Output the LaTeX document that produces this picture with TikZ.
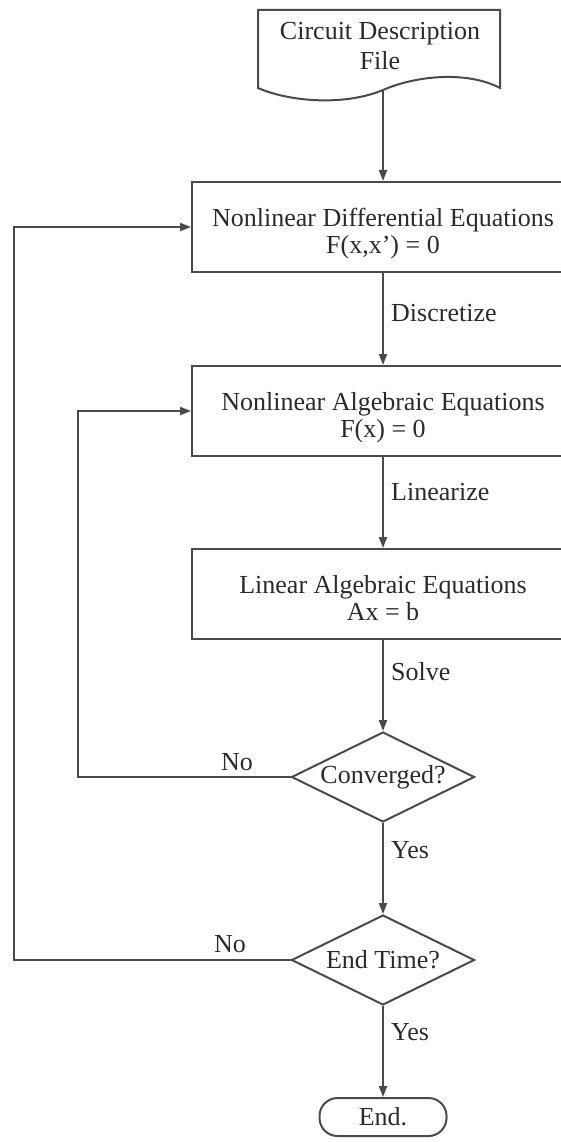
\documentclass[tikz,border=0pt]{standalone}
\usepackage{fontspec}
\setmainfont{Liberation Serif}
\usetikzlibrary{shapes.geometric,arrows.meta}
\definecolor{ln}{HTML}{4A4A4A}
\definecolor{tx}{HTML}{2A2A2A}
\newcommand{\twolines}[2]{\raisebox{-13.5pt}[0pt][0pt]{\begin{tabular}{@{}c@{}}#1\\#2\end{tabular}}}
\begin{document}
\begin{tikzpicture}[x=1pt,y=-1pt,
  every node/.style={text=tx,font=\fontsize{26}{27}\selectfont},
  box/.style={draw=ln,line width=2pt,rectangle,minimum width=382pt,minimum height=90pt,align=center,inner sep=0pt},
  dia/.style={draw=ln,line width=2pt,diamond,aspect=2,minimum width=183pt,minimum height=90pt,inner sep=0pt},
  term/.style={draw=ln,line width=2pt,rectangle,rounded corners=18pt,minimum width=127pt,minimum height=38pt,inner sep=0pt},
  arr/.style={draw=ln,line width=2pt,-{Triangle[length=11pt,width=8pt]}},
  ln/.style={draw=ln,line width=2pt},
  lab/.style={anchor=west,inner sep=0pt}]
\useasboundingbox (0,0) rectangle (561,1142);
% document shape
\draw[ln,fill=white] (258,88) -- (258,10) -- (500,10) -- (500,88)
  .. controls (470,72) and (420,74) .. (383,90)
  .. controls (345,106) and (290,102) .. (258,88) -- cycle;
\node[align=center,font=\fontsize{26}{30}\selectfont] (doc) at (380,46) {Circuit Description\\File};
\coordinate (docb) at (383,90);
% boxes
\node[box] (b1) at (383,227) {\twolines{Nonlinear Differential Equations}{F(x,x’) = 0}};
\node[box] (b2) at (383,411) {\twolines{Nonlinear Algebraic Equations}{F(x) = 0}};
\node[box] (b3) at (383,594) {\twolines{Linear Algebraic Equations}{Ax = b}};
\node[dia] (d1) at (383,777) {Converged?};
\node[dia] (d2) at (383,960) {End Time?};
\node[term] (e) at (383,1117) {End.};
% vertical arrows
\draw[arr] (docb) -- (b1.north);
\draw[arr] (b1.south) -- (b2.north);
\draw[arr] (b2.south) -- (b3.north);
\draw[arr] (b3.south) -- (d1.north);
\draw[arr] (d1.south) -- (d2.north);
\draw[arr] (d2.south) -- (e.north);
% loops
\coordinate (l1) at (78,0);
\coordinate (l2) at (14,0);
\draw[arr] (d1.west) -- (d1.west -| l1) |- (b2.west);
\draw[arr] (d2.west) -- (d2.west -| l2) |- (b1.west);
% labels
\node[lab] (t1) at (391,313) {Discretize};
\node[lab] (t2) at (391,492) {Linearize};
\node[lab] (t3) at (391,672) {Solve};
\node[lab] (t4) at (391,850) {Yes};
\node[lab] (t5) at (391,1032) {Yes};
\node (n1) at (237,762) {No};
\node (n2) at (230,944) {No};
\end{tikzpicture}
\end{document}
